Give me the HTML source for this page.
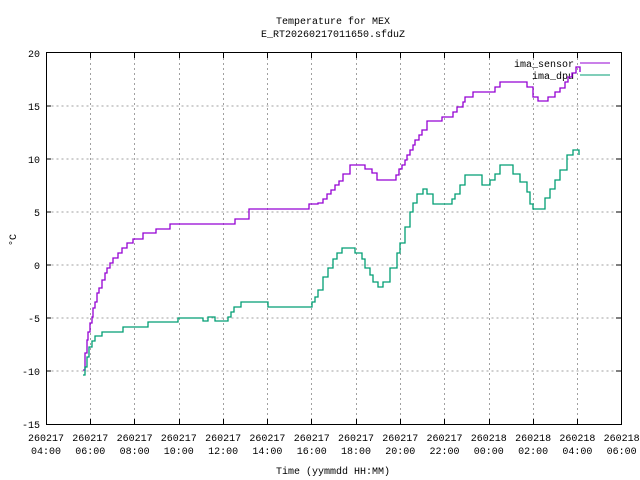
<!DOCTYPE html>
<html><head><style>body{margin:0;background:#fff}svg{display:block;font-family:"Liberation Mono",monospace;font-size:10px}</style></head><body>
<svg width="640" height="480" viewBox="0 0 640 480" xmlns="http://www.w3.org/2000/svg">
<g stroke="#a0a0a0" stroke-dasharray="2,3" stroke-width="1">
<path d="M46.5 106H621M46.5 159H621M46.5 212H621M46.5 265H621M46.5 318H621M46.5 371H621"/>
<path d="M90.5 53V424M134.5 53V424M179.5 53V424M223.5 53V424M267.5 53V424M311.5 53V424M356.5 53V424M400.5 53V424M444.5 53V424M489.5 53V424M533.5 53V424M577.5 53V424"/>
</g>
<rect x="46.5" y="52.5" width="575" height="372" fill="none" stroke="#000"/>
<g stroke="#000"><path d="M46 106h5M46 159h5M46 212h5M46 265h5M46 318h5M46 371h5M621 106h-5M621 159h-5M621 212h-5M621 265h-5M621 318h-5M621 371h-5"/>
<path d="M90.5 424v-5M134.5 424v-5M179.5 424v-5M223.5 424v-5M267.5 424v-5M311.5 424v-5M356.5 424v-5M400.5 424v-5M444.5 424v-5M489.5 424v-5M533.5 424v-5M577.5 424v-5M90.5 53v5M134.5 53v5M179.5 53v5M223.5 53v5M267.5 53v5M311.5 53v5M356.5 53v5M400.5 53v5M444.5 53v5M489.5 53v5M533.5 53v5M577.5 53v5"/></g>
<g text-anchor="end"><text x="40" y="57">20</text><text x="40" y="110">15</text><text x="40" y="163">10</text><text x="40" y="216">5</text><text x="40" y="269">0</text><text x="40" y="322">-5</text><text x="40" y="375">-10</text><text x="40" y="428">-15</text></g>
<g text-anchor="middle">
<text x="46" y="441">260217</text><text x="46" y="454">04:00</text>
<text x="90.3" y="441">260217</text><text x="90.3" y="454">06:00</text>
<text x="134.6" y="441">260217</text><text x="134.6" y="454">08:00</text>
<text x="178.8" y="441">260217</text><text x="178.8" y="454">10:00</text>
<text x="223.1" y="441">260217</text><text x="223.1" y="454">12:00</text>
<text x="267.4" y="441">260217</text><text x="267.4" y="454">14:00</text>
<text x="311.7" y="441">260217</text><text x="311.7" y="454">16:00</text>
<text x="356" y="441">260217</text><text x="356" y="454">18:00</text>
<text x="400.2" y="441">260217</text><text x="400.2" y="454">20:00</text>
<text x="444.5" y="441">260217</text><text x="444.5" y="454">22:00</text>
<text x="488.8" y="441">260218</text><text x="488.8" y="454">00:00</text>
<text x="533.1" y="441">260218</text><text x="533.1" y="454">02:00</text>
<text x="577.4" y="441">260218</text><text x="577.4" y="454">04:00</text>
<text x="621.6" y="441">260218</text><text x="621.6" y="454">06:00</text>
</g>
<text x="333" y="24" text-anchor="middle">Temperature for MEX</text>
<text x="333" y="37" text-anchor="middle">E_RT20260217011650.sfduZ</text>
<text x="333" y="474" text-anchor="middle">Time (yymmdd HH:MM)</text>
<text x="16" y="240" text-anchor="middle" transform="rotate(-90 16 240)">°C</text>
<text x="574" y="67" text-anchor="end">ima_sensor</text>
<text x="574" y="79" text-anchor="end">ima_dpu</text>
<path d="M580 63H610" stroke="#9400d3"/><path d="M580 75H610" stroke="#009e73"/>
<path fill="none" stroke="#9400d3" stroke-width="1.3" d="M83 370H85V353H87V340H88V332H90V323H92V317H93V308H95V302H97V293H99V288H102V280H105V273H107V268H110V263H113V258H118V253H122V248H127V243H133V239H143V233H156V229H170V224H235V219H249V209H309V204H318V203H323V199H327V194H331V190H335V185H339V181H343V174H350V165H364V165H365V169H372V173H377V180H391V180H396V175H399V169H402V165H405V160H407V155H410V150H413V145H415V140H419V135H422V130H427V121H440V121H442V117H452V117H453V112H457V107H463V102H465V97H473V92H493V92H495V87H500V82H522V82H527V87H533V97H538V101H547V101H548V97H555V92H560V88H565V82H568V77H572V73H576V67H580V72"/>
<path fill="none" stroke="#009e73" stroke-width="1.3" d="M83 375H85V367H87V357H89V347H92V341H95V336H102V332H123V327H148V322H178V318H202V318H203V321H208V317H214V317H215V321H227V321H228V317H231V312H234V307H241V302H268V302H268V307H310V307H312V302H315V297H318V290H323V277H328V268H333V259H337V253H342V248H352V248H355V253H362V259H365V268H370V275H373V282H378V287H383V282H390V268H397V253H400V243H405V227H410V212H413V203H417V194H423V189H427V194H433V204H450V204H452V199H455V194H460V185H465V175H477V175H482V185H488V185H490V180H495V174H500V165H509V165H513V174H520V182H527V192H530V204H533V209H540V209H545V198H550V189H555V180H560V170H567V155H573V150H579V155"/>
</svg>
</body></html>
